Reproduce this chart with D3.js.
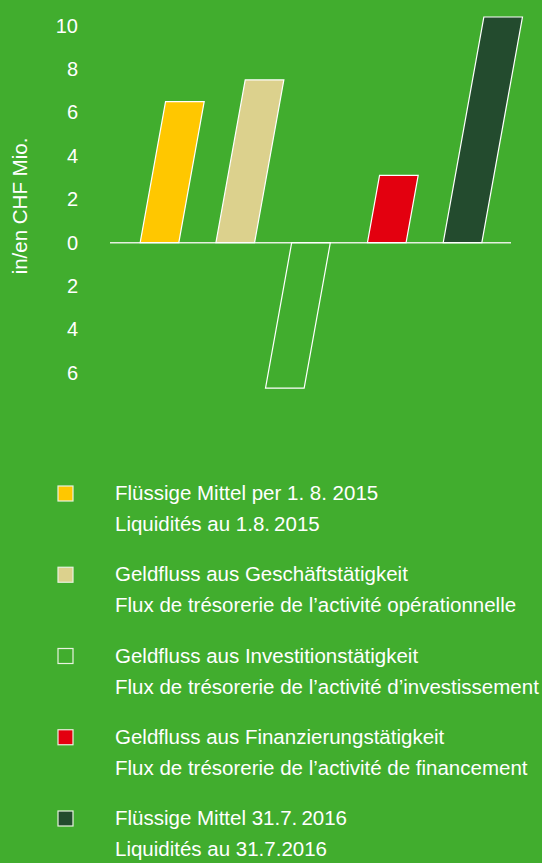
<!DOCTYPE html>
<html>
<head>
<meta charset="utf-8">
<script src="https://cdn.jsdelivr.net/npm/d3@7"></script>
<style>
  html, body { margin: 0; padding: 0; background: #41ad2e; }
  svg { display: block; font-family: "Liberation Sans", Arial, sans-serif; }
</style>
</head>
<body>
<div id="chart"></div>
<script>
// Data
const categories = ["start", "operating", "investing", "financing", "end"];
const values = [6.5, 7.5, -6.7, 3.1, 10.4];
const colors = ["#ffc700", "#dcd18d", "none", "#e3000f", "#234b2e"];
const tickValues = [-6, -4, -2, 0, 2, 4, 6, 8, 10];
const legendDe = [
  "Flüssige Mittel per 1. 8. 2015",
  "Geldfluss aus Geschäftstätigkeit",
  "Geldfluss aus Investitionstätigkeit",
  "Geldfluss aus Finanzierungstätigkeit",
  "Flüssige Mittel 31.7.\u20092016"
];
const legendFr = [
  "Liquidités au 1.8.\u20092015",
  "Flux de trésorerie de l’activité opérationnelle",
  "Flux de trésorerie de l’activité d’investissement",
  "Flux de trésorerie de l’activité de financement",
  "Liquidités au 31.7.2016"
];

const drawChart = () => {

  /*******************************/
  /*    Declare the constants    */
  /*******************************/
  const width = 542;
  const height = 863;
  const white = "#ffffff";
  const slant = 0.18; // horizontal shift per px of bar height

  const svg = d3.select("#chart")
    .append("svg")
      .attr("width", width)
      .attr("height", height);

  svg.append("rect")
    .attr("width", width)
    .attr("height", height)
    .attr("fill", "#41ad2e");

  /****************************/
  /*    Declare the scales    */
  /****************************/
  const xScale = d3.scaleBand()
    .domain(categories)
    .range([121.6, 500.4])
    .paddingInner(0.49)
    .paddingOuter(0.245);

  const yScale = d3.scaleLinear()
    .domain([-6, 10])
    .range([372.9, 25.7]);

  // Left axis (labels only)
  const leftAxis = d3.axisLeft(yScale)
    .tickValues(tickValues)
    .tickFormat(d => Math.abs(d))
    .tickSize(0)
    .tickPadding(0);

  svg.append("g")
      .attr("class", "axis-left")
      .attr("transform", "translate(78, 0)")
      .call(leftAxis)
      .call(g => g.select(".domain").remove())
      .call(g => g.selectAll("text")
        .attr("fill", white)
        .style("font-size", "20px")
        .style("font-family", "Liberation Sans, Arial, sans-serif"));

  svg.append("text")
      .text("in/en CHF Mio.")
      .attr("transform", `translate(27, 206) rotate(-90)`)
      .attr("text-anchor", "middle")
      .attr("fill", white)
      .style("font-size", "20.5px");

  // Zero line
  svg.append("line")
      .attr("x1", 110)
      .attr("x2", 511)
      .attr("y1", yScale(0))
      .attr("y2", yScale(0))
      .attr("stroke", "#e6f0e0")
      .attr("stroke-width", 1.5);

  /********************************/
  /*    Append the slanted bars   */
  /********************************/
  const barPath = (cat, v) => {
    const x0 = xScale(cat);
    const w = xScale.bandwidth();
    const y0 = yScale(0);
    const yv = yScale(v);
    const off = slant * (y0 - yv);
    return `M${x0},${y0}L${x0 + w},${y0}L${x0 + w + off},${yv}L${x0 + off},${yv}Z`;
  };

  svg.append("g")
    .selectAll("path")
    .data(categories)
    .join("path")
      .attr("d", (d, i) => barPath(d, values[i]))
      .attr("fill", (d, i) => colors[i])
      .attr("stroke", white)
      .attr("stroke-width", 1.2)
      .attr("stroke-linejoin", "miter");

  /***************************/
  /*    Append the legend    */
  /***************************/
  const legendTop = 493;
  const legendStep = 81.25;
  const lineGap = 31;

  const legend = svg.append("g")
    .selectAll("g")
    .data(categories)
    .join("g")
      .attr("transform", (d, i) => `translate(0, ${legendTop + i * legendStep})`);

  legend.append("rect")
      .attr("x", 58)
      .attr("y", -7)
      .attr("width", 15)
      .attr("height", 15)
      .attr("fill", (d, i) => colors[i] === "none" ? "none" : colors[i])
      .attr("stroke", "#e8f2e0")
      .attr("stroke-width", 1.2);

  legend.append("text")
      .text((d, i) => legendDe[i])
      .attr("x", 115)
      .attr("y", 0)
      .attr("dy", "0.35em")
      .attr("fill", white)
      .style("font-size", "20.5px");

  legend.append("text")
      .text((d, i) => legendFr[i])
      .attr("x", 115)
      .attr("y", lineGap)
      .attr("dy", "0.35em")
      .attr("fill", white)
      .style("font-size", "20.5px");
};

drawChart();
</script>
</body>
</html>
